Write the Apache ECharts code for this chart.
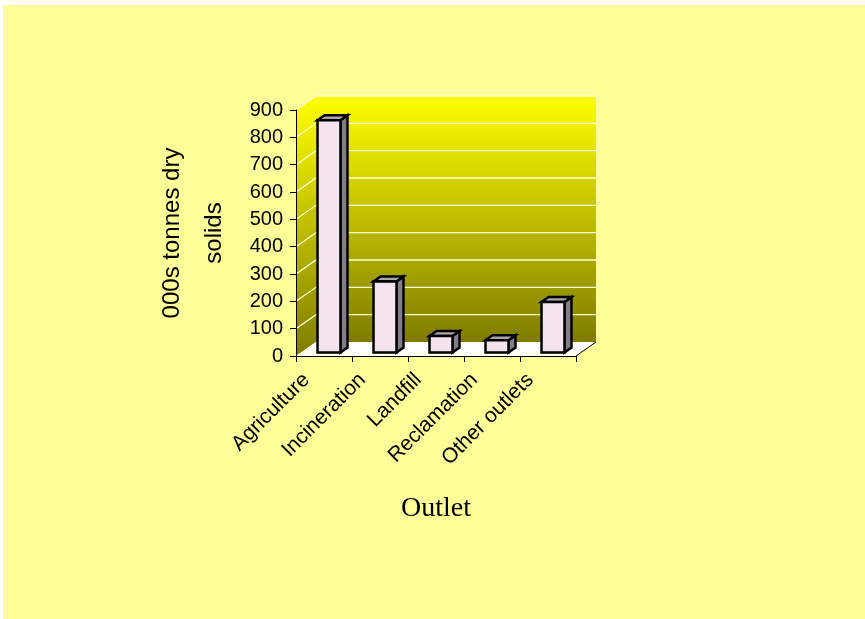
<!DOCTYPE html>
<html>
<head>
<meta charset="utf-8">
<title>Outlet</title>
<script src="https://cdn.jsdelivr.net/npm/echarts@6/dist/echarts.min.js"></script>
<style>
    html, body { margin: 0; padding: 0; background: #fff; }
    #main {
        width: 865px;
        height: 619px;
        background:
            linear-gradient(#fff, #fff) top left / 100% 5px no-repeat,
            linear-gradient(#fff, #fff) top left / 3px 100% no-repeat,
            #FFFF99;
    }
</style>
</head>
<body>
<div id="main"></div>
<script>
// 数据
var categories = ['Agriculture', 'Incineration', 'Landfill', 'Reclamation', 'Other outlets'];
var values = [850, 260, 60, 45, 185];
var yTicks = [100, 200, 300, 400, 500, 600, 700, 800, 900];

// 3D depth of the walls and bars (pixels)
var WALL_DX = 20, WALL_DY = -14;
var BAR_FX = 5, BAR_FY = -3.5;
var BAR_DX = 7, BAR_DY = -5;

var myChart = echarts.init(document.getElementById('main'));

function renderWalls(params, api) {
    var cs = params.coordSys;
    var L = cs.x, R = cs.x + cs.width, T = cs.y, B = cs.y + cs.height;
    var grad = new echarts.graphic.LinearGradient(0, 0, 0, 1, [
        { offset: 0, color: '#FFFF00' },
        { offset: 1, color: '#7F7C00' }
    ]);
    var children = [
        {
            type: 'polygon',
            shape: { points: [[L + WALL_DX, T + WALL_DY], [R + WALL_DX, T + WALL_DY], [R + WALL_DX, B + WALL_DY], [L + WALL_DX, B + WALL_DY]] },
            style: { fill: grad }
        },
        {
            type: 'polygon',
            shape: { points: [[L, T], [L + WALL_DX, T + WALL_DY], [L + WALL_DX, B + WALL_DY], [L, B]] },
            style: { fill: grad }
        },
        {
            type: 'polygon',
            shape: { points: [[L, B], [R, B], [R + WALL_DX, B + WALL_DY], [L + WALL_DX, B + WALL_DY]] },
            style: { fill: '#fff' }
        },
        {
            type: 'line',
            shape: { x1: R, y1: B, x2: R + WALL_DX, y2: B + WALL_DY },
            style: { stroke: '#000', lineWidth: 1 }
        }
    ];
    yTicks.forEach(function (v) {
        var y = api.coord([0, v])[1];
        children.push({
            type: 'polyline',
            shape: { points: [[L, y], [L + WALL_DX, y + WALL_DY], [R + WALL_DX, y + WALL_DY]] },
            style: { stroke: '#FFFFD0', lineWidth: 1.3, fill: null }
        });
    });
    return { type: 'group', children: children };
}

function renderBar(params, api) {
    var base = api.coord([api.value(0), 0]);
    var top = api.coord([api.value(0), api.value(1)]);
    var bw = api.size([1, 0])[0] * 0.41;
    var x0 = base[0] + BAR_FX - bw / 2, x1 = x0 + bw;
    var yb = base[1] + BAR_FY, yt = top[1] + BAR_FY;
    var line = { stroke: '#000', lineWidth: 2.5, lineJoin: 'miter' };
    return {
        type: 'group',
        children: [
            {
                type: 'polygon',
                shape: { points: [[x1, yb], [x1, yt], [x1 + BAR_DX, yt + BAR_DY], [x1 + BAR_DX, yb + BAR_DY]] },
                style: echarts.util.extend({ fill: '#857E88' }, line)
            },
            {
                type: 'polygon',
                shape: { points: [[x0, yt], [x1, yt], [x1 + BAR_DX, yt + BAR_DY], [x0 + BAR_DX, yt + BAR_DY]] },
                style: echarts.util.extend({ fill: '#ADA5AC' }, line)
            },
            {
                type: 'rect',
                shape: { x: x0, y: yt, width: bw, height: yb - yt },
                style: echarts.util.extend({ fill: '#F4E4EE' }, line)
            }
        ]
    };
}

var option = {
    backgroundColor: 'transparent',
    animation: false,
    grid: { left: 296, right: 289, top: 110, bottom: 263 },
    xAxis: {
        type: 'category',
        data: categories,
        z: 3,
        name: 'Outlet',
        nameLocation: 'middle',
        nameGap: 139,
        nameTextStyle: { fontFamily: 'Liberation Serif', fontSize: 28, color: '#000' },
        axisLine: { lineStyle: { color: '#000', width: 1 } },
        axisTick: { show: true, length: 6, lineStyle: { color: '#000' } },
        axisLabel: {
            rotate: 45,
            margin: 3,
            padding: [0, 25, 0, 0],
            interval: 0,
            fontFamily: 'Liberation Sans',
            fontSize: 21,
            color: '#000'
        },
        splitLine: { show: false }
    },
    yAxis: {
        type: 'value',
        min: 0,
        max: 900,
        interval: 100,
        z: 3,
        name: '000s tonnes dry\nsolids',
        nameLocation: 'middle',
        nameGap: 61,
        nameTextStyle: { fontFamily: 'Liberation Sans', fontSize: 24, lineHeight: 42, color: '#000', align: 'center' },
        axisLine: { show: true, lineStyle: { color: '#000', width: 1 } },
        axisTick: { show: true, length: 6, lineStyle: { color: '#000' } },
        axisLabel: { margin: 13, fontFamily: 'Liberation Sans', fontSize: 20, color: '#000' },
        splitLine: { show: false }
    },
    series: [
        {
            type: 'custom',
            z: 1,
            silent: true,
            renderItem: renderWalls,
            data: [[0, 0]]
        },
        {
            type: 'custom',
            z: 5,
            renderItem: renderBar,
            encode: { x: 0, y: 1 },
            data: categories.map(function (c, i) { return [i, values[i]]; })
        }
    ]
};
myChart.setOption(option);
window.addEventListener('resize', function () {
    myChart.resize();
});
</script>
</body>
</html>
